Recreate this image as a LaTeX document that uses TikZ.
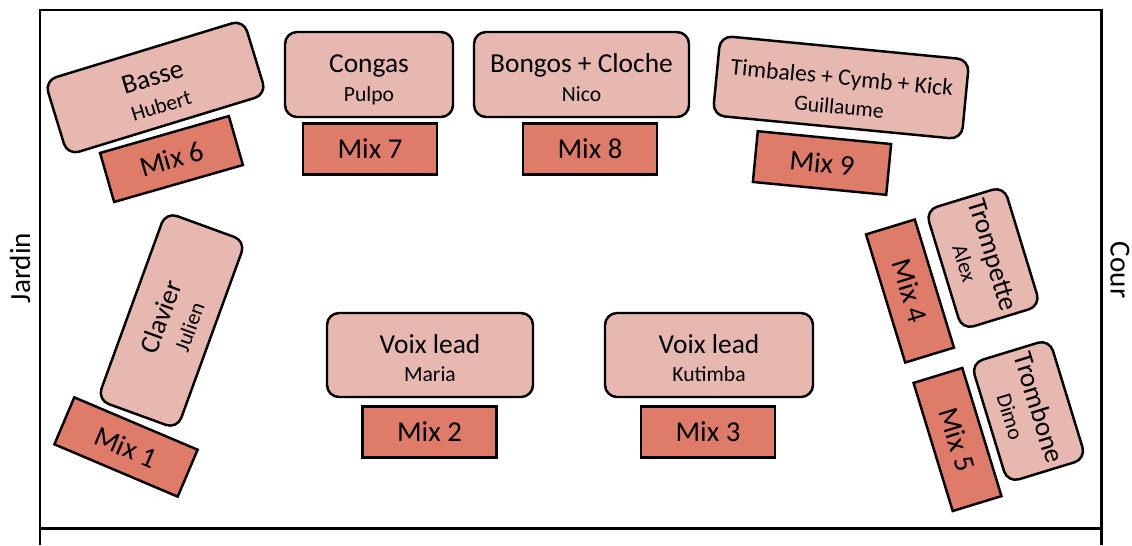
\documentclass[tikz,border=0pt]{standalone}
\usepackage{fontspec}
\setmainfont{Carlito}
\definecolor{pupitre}{HTML}{E6B8B0}
\definecolor{retour}{HTML}{DF7B69}
\newcommand{\haut}{\rule{0pt}{18pt}}
\newcommand{\nom}[1]{{\fontsize{12.3}{14}\selectfont #1\rule[-4pt]{0pt}{4pt}}}

\begin{document}
\begin{tikzpicture}[x=0.02cm, y=-0.02cm,
  instr/.style 2 args={draw=black, line width=1.4pt, fill=pupitre, rounded corners=0.24cm,
    align=center, inner sep=0pt, minimum width=#1*0.02cm, minimum height=#2*0.02cm,
    font=\fontsize{15.6}{16.2}\selectfont},
  mixbox/.style={draw=black, line width=1.4pt, fill=retour, inner sep=0pt,
    minimum width=2.68cm, minimum height=1.02cm, font=\fontsize{16.4}{18}\selectfont}]
\useasboundingbox (0,0) rectangle (1132,545);
% scene
\draw[line width=1.7pt] (40,545) -- (40,10) -- (1101,10) -- (1101,545);
\draw[line width=1.7pt] (40,528) -- (1101,528);
\node[rotate=90, font=\fontsize{16.6}{18}\selectfont] (jardin) at (20,268) {Jardin};
\node[rotate=-90, font=\fontsize{16.6}{18}\selectfont] (cour) at (1120,270) {Cour};
% pupitres
\node[instr={208}{78}, rotate=17] (basse) at (155.5,87.5) {\haut Basse\\\nom{Hubert}};
\node[instr={168}{85}] (congas) at (369,74.5) {\haut Congas\\\nom{Pulpo}};
\node[instr={215}{85}] (bongos) at (581.5,74.5) {\haut Bongos + Cloche\\\nom{Nico}};
\node[instr={250}{80}, rotate=-5.5, font=\fontsize{13.4}{16.5}\selectfont] (timbales) at (841,87.5) {\haut Timbales + Cymb + Kick\\\nom{Guillaume}};
\node[instr={200}{85}, rotate=70] (clavier) at (171.5,320.5) {\haut Clavier\\\nom{Julien}};
\node[instr={206}{84}] (maria) at (430,355) {\haut Voix lead\\\nom{Maria}};
\node[instr={208}{84}] (kutimba) at (709,355) {\haut Voix lead\\\nom{Kutimba}};
\node[instr={125}{82}, rotate=-73] (trompette) at (983,258) {\haut Trompette\\\nom{Alex}};
\node[instr={125}{82}, rotate=-73] (trombone) at (1028.5,411) {\haut Trombone\\\nom{Dimo}};
% retours
\node[mixbox, rotate=-23] (mix1) at (126,447) {Mix 1};
\node[mixbox] (mix2) at (429.5,432) {Mix 2};
\node[mixbox] (mix3) at (708,432) {Mix 3};
\node[mixbox, rotate=-73] (mix4) at (910,291) {Mix 4};
\node[mixbox, rotate=-73] (mix5) at (957.5,439.5) {Mix 5};
\node[mixbox, rotate=16] (mix6) at (171.5,159) {Mix 6};
\node[mixbox] (mix7) at (370,149) {Mix 7};
\node[mixbox] (mix8) at (590,149) {Mix 8};
\node[mixbox, rotate=-5.5] (mix9) at (822,163) {Mix 9};
\end{tikzpicture}
\end{document}
